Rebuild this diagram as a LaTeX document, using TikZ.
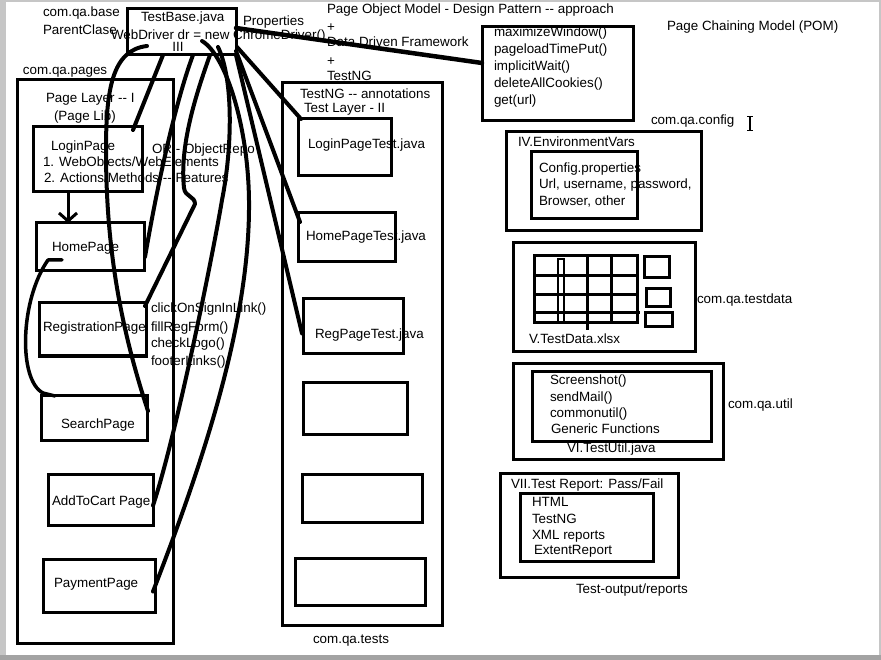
\documentclass[tikz,border=0pt]{standalone}
\usepackage{fontspec}
\setmainfont{Liberation Sans}
\usetikzlibrary{calc,arrows.meta}

% a framed box given by its corners (x1,y1) and (x2,y2)
\newcommand\drawbox[5]{%
  \node[box, minimum width={(#4-#2)*1pt}, minimum height={(#5-#3)*1pt}]
    (#1) at ({(#2+#4)/2},{(#3+#5)/2}) {};}
% two plain hyphens, kept apart so they do not merge into a dash
\newcommand\twohyph{-\kern0pt-}

\begin{document}
\begin{tikzpicture}[x=1pt,y=-1pt,
  box/.style={draw, line width=3pt, inner sep=0pt, outer sep=0pt},
  wire/.style={line width=4pt, line cap=round, line join=round},
  lbl/.style={anchor=base west, inner sep=0pt, outer sep=0pt,
              font=\fontsize{13.4}{16}\selectfont},
  gridline/.style={line width=3pt},
]
\useasboundingbox (0,0) rectangle (881,660);

% sheet with its shadow
\fill[gray!45] (0,0) rectangle (881,660);
\fill[white] (6,2) rectangle (879,655);
\fill[gray!72] (0,655) rectangle (881,660);

% ---------- texts ----------
\node[lbl] (lb1) at (43,17) {com.qa.base};
\node[lbl] (lb2) at (43,35) {ParentClase};
\node[lbl] (tb1) at (141,22) {TestBase.java};
\node[lbl] (tb2) at (111,40) {WebDriver dr = new ChromeDriver()};
\node[lbl, anchor=base] (tb3) at (178,52) {III};
\node[lbl] (prop) at (243,26) {Properties};
\node[lbl] (pom) at (327,14) {Page Object Model - Design Pattern \twohyph{} approach};
\node[lbl] (plus1) at (327,32) {+};
\node[lbl] (ddf) at (327,47) {Data Driven Framework};
\node[lbl] (plus2) at (327,66) {+};
\node[lbl] (tng) at (327,81) {TestNG};
\node[lbl] (chain) at (667,31) {Page Chaining Model (POM)};
\node[lbl] (cfgpk) at (651,125) {com.qa.config};

\node[lbl] (mw1) at (494,37) {maximizeWindow()};
\node[lbl] (mw2) at (494,54) {pageloadTimePut()};
\node[lbl] (mw3) at (494,71) {implicitWait()};
\node[lbl] (mw4) at (494,88) {deleteAllCookies()};
\node[lbl] (mw5) at (494,105) {get(url)};

\node[lbl] (pgpk) at (23,75) {com.qa.pages};
\node[lbl] (layer1) at (46,103) {Page Layer \twohyph{} I};
\node[lbl] (plib) at (54,121) {(Page Lib)};
\node[lbl] (lp) at (51,151) {LoginPage};
\node[lbl] (lp1) at (43,167) {1. WebObjects/WebElements};
\node[lbl] (lp2) at (44,183) {2. Actions/Methods \twohyph{} Features};
\node[lbl] (orepo) at (152,154) {OR - ObjectRepo};
\node[lbl] (hp) at (52,252) {HomePage};
\node[lbl] (rp) at (43,331) {RegistrationPage};
\node[lbl] (m1) at (151,313) {clickOnSignInLink()};
\node[lbl] (m2) at (151,331) {fillRegForm()};
\node[lbl] (m3) at (151,348) {checkLogo()};
\node[lbl] (m4) at (151,365) {footerLinks()};
\node[lbl] (sp) at (61,428) {SearchPage};
\node[lbl] (acp) at (52,505) {AddToCart Page};
\node[lbl] (pp) at (54,587) {PaymentPage};

\node[lbl] (ann) at (300,99) {TestNG \twohyph{} annotations};
\node[lbl] (layer2) at (304,113) {Test Layer - II};
\node[lbl] (lptt) at (308,149) {LoginPageTest.java};
\node[lbl] (hptt) at (306,241) {HomePageTest.java};
\node[lbl] (rptt) at (315,339) {RegPageTest.java};
\node[lbl] (testpk) at (313,643) {com.qa.tests};

\node[lbl] (envt) at (518,147) {IV.EnvironmentVars};
\node[lbl] (c1) at (539,173) {Config.properties};
\node[lbl] (c2) at (539,189) {Url, username, password,};
\node[lbl] (c3) at (539,206) {Browser, other};
\node[lbl] (xls) at (529,344) {V.TestData.xlsx};
\node[lbl] (datapk) at (697,304) {com.qa.testdata};
\node[lbl] (u1) at (550,384) {Screenshot()};
\node[lbl] (u2) at (550,401) {sendMail()};
\node[lbl] (u3) at (550,417) {commonutil()};
\node[lbl] (u4) at (551,433) {Generic Functions};
\node[lbl] (u5) at (567,452) {VI.TestUtil.java};
\node[lbl] (utilpk) at (728,408) {com.qa.util};
\node[lbl] (r0) at (511,488) {VII.Test Report: Pass/Fail};
\node[lbl] (r1) at (532,506) {HTML};
\node[lbl] (r2) at (532,523) {TestNG};
\node[lbl] (r3) at (532,539) {XML reports};
\node[lbl] (r4) at (534,554) {ExtentReport};
\node[lbl] (outpk) at (576,593) {Test-output/reports};

% ---------- boxes ----------
\drawbox{base}{127}{9}{236}{55}
\drawbox{methods}{482}{27}{633}{121}
\drawbox{pages}{17}{80}{173}{643}
\drawbox{login}{33}{127}{142}{192}
\drawbox{home}{36}{223}{144}{271}
\drawbox{reg}{39}{303}{146}{356}
\drawbox{search}{41}{395}{147}{440}
\drawbox{cart}{48}{474}{153}{525}
\drawbox{pay}{43}{559}{155}{612}
\drawbox{tests}{282}{83}{442}{625}
\drawbox{lpt}{298}{119}{391}{176}
\drawbox{hpt}{298}{213}{395}{262}
\drawbox{rpt}{303}{299}{403}{354}
\drawbox{tA}{303}{382}{407}{434}
\drawbox{tB}{302}{474}{422}{522}
\drawbox{tC}{295}{558}{425}{605}
\drawbox{env}{506}{132}{701}{231}
\drawbox{envin}{531}{152}{637}{219}
\drawbox{data}{513}{243}{695}{352}
\drawbox{grid}{534}{256}{637}{323}
\drawbox{sA}{644}{257}{669}{278}
\drawbox{sB}{646}{289}{670}{307}
\drawbox{sC}{645}{313}{672}{327}
\drawbox{util}{513}{363}{723}{459}
\drawbox{utilin}{532}{371}{711}{441}
\drawbox{rep}{500}{473}{678}{577}
\drawbox{repin}{520}{493}{653}{561}

% spreadsheet cells
\draw[gridline] (534,276) -- (637,276);
\draw[gridline] (534,295) -- (637,295);
\draw[gridline] (534,313) -- (640,313);
\draw[gridline] (587,256) -- (587,330);
\draw[gridline] (611,256) -- (611,323);
\draw[line width=2.6pt] (558,259) rectangle (564,322);

% text cursor
\draw[line width=1.1pt] (750,117) -- (750,131);
\draw[line width=1pt] (747,117) -- (753,117);
\draw[line width=1pt] (747,131) -- (753,131);

% ---------- connectors ----------
\draw[wire, line width=4.5pt] ($(base.east)+(0,-4)$) -- ($(methods.west)+(0,-11)$);

\draw[line width=3pt, -{Straight Barb[length=8pt,width=18pt]}]
  ($(login.south west)+(35,0)$) -- ($(home.north west)+(32,0)$);

\draw[wire, line width=3.5pt] ($(home.south west)+(26,-11)$) -- ($(home.south west)+(12,-11)$)
  .. controls (20,300) and (18,380) .. ($(search.north west)+(2,-2)$)
  -- ($(search.north west)+(14,1)$);

% base class to the page classes
\draw[wire] ($(base.south west)+(20,-9)$) .. controls (112,50) and (106,90) .. (106,150)
  .. controls (106,240) and (118,320) .. ($(search.north east)+(1,16)$);
\draw[wire] ($(base.south west)+(36,0)$) -- ($(login.north east)+(-9,3)$);
\draw[wire] ($(base.south west)+(66,0)$) .. controls (178,95) and (160,170) .. ($(home.east)+(1,10)$);
\draw[wire] ($(base.south west)+(83,0)$) .. controls (192,105) and (180,150) .. (184,188)
  .. controls (185,197) and (195,196) .. (195,204) -- ($(reg.north east)+(-1,3)$);
\draw[wire] ($(base.west)+(75,9)$) .. controls (226,55) and (250,130) .. (249,210)
  .. controls (248,330) and (200,470) .. ($(pay.east)+(-2,6)$);
\draw[wire] ($(base.west)+(91,15)$) .. controls (234,80) and (232,150) .. (222,200)
  .. controls (212,260) and (175,440) .. ($(cart.east)+(0,6)$);

% base class to the test classes
\draw[wire] ($(base.south east)+(1,-8)$) -- ($(lpt.north west)+(3,0)$);
\draw[wire] ($(base.south east)+(0,-4)$) -- ($(hpt.north west)+(2,9)$);
\draw[wire] (base.south east) -- ($(rpt.west)+(-1,7)$);

\end{tikzpicture}
\end{document}
